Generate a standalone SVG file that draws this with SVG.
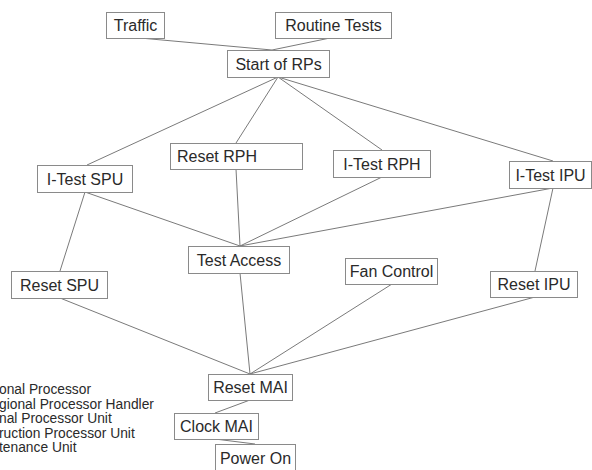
<svg xmlns="http://www.w3.org/2000/svg" width="592" height="470" viewBox="0 0 592 470">
  <style>
    .box { fill: #ffffff; stroke: #8a8a8a; stroke-width: 1; }
    .lbl { font-family: "Liberation Sans", Arial, sans-serif; font-size: 16px; fill: #2a2a2a; text-anchor: middle; }
    .leg { font-family: "Liberation Sans", Arial, sans-serif; font-size: 13.8px; fill: #2a2a2a; }
    .edge { stroke: #7a7a7a; stroke-width: 1; fill: none; }
  </style>
  <rect width="592" height="470" fill="#ffffff"/>

  <!-- connectors -->
  <g id="connectors" class="edge">
    <line x1="140" y1="38" x2="272" y2="50"/>
    <line x1="330" y1="38" x2="272" y2="50"/>
    <line x1="278" y1="77" x2="87" y2="165"/>
    <line x1="278" y1="77" x2="236" y2="143"/>
    <line x1="278" y1="77" x2="382" y2="150"/>
    <line x1="278" y1="77" x2="553" y2="161"/>
    <line x1="85" y1="192" x2="240" y2="246"/>
    <line x1="85" y1="192" x2="60" y2="271"/>
    <line x1="236" y1="169" x2="240" y2="246"/>
    <line x1="382" y1="177" x2="240" y2="246"/>
    <line x1="553" y1="188" x2="240" y2="246"/>
    <line x1="553" y1="188" x2="535" y2="271"/>
    <line x1="60" y1="298" x2="250" y2="374"/>
    <line x1="240" y1="273" x2="250" y2="374"/>
    <line x1="392" y1="284" x2="250" y2="374"/>
    <line x1="535" y1="297" x2="250" y2="374"/>
    <line x1="250" y1="400" x2="215" y2="413"/>
    <line x1="215" y1="439" x2="255" y2="444"/>
  </g>

  <g id="traffic"><rect class="box" x="106.5" y="12.5" width="58" height="26"/><text class="lbl" x="135.5" y="31">Traffic</text></g>
  <g id="routine-tests"><rect class="box" x="275.5" y="12.5" width="116" height="26"/><text class="lbl" x="333.5" y="31">Routine Tests</text></g>
  <g id="start-of-rps"><rect class="box" x="227.5" y="50.5" width="102" height="27"/><text class="lbl" x="278.5" y="69.5">Start of RPs</text></g>
  <g id="reset-rph"><rect class="box" x="170.5" y="143.5" width="132" height="26"/><text class="lbl" x="217" y="162">Reset RPH</text></g>
  <g id="itest-rph"><rect class="box" x="333.5" y="150.5" width="97" height="27"/><text class="lbl" x="382" y="169.5">I-Test RPH</text></g>
  <g id="itest-spu"><rect class="box" x="37.5" y="165.5" width="95" height="27"/><text class="lbl" x="85" y="184.5">I-Test SPU</text></g>
  <g id="itest-ipu"><rect class="box" x="509.5" y="161.5" width="82" height="27"/><text class="lbl" x="550.5" y="180.5">I-Test IPU</text></g>
  <g id="test-access"><rect class="box" x="188.5" y="246.5" width="101" height="27"/><text class="lbl" x="239" y="265.5">Test Access</text></g>
  <g id="fan-control"><rect class="box" x="345.5" y="258.5" width="92" height="26"/><text class="lbl" x="391.5" y="277">Fan Control</text></g>
  <g id="reset-spu"><rect class="box" x="11.5" y="271.5" width="96" height="27"/><text class="lbl" x="59.5" y="290.5">Reset SPU</text></g>
  <g id="reset-ipu"><rect class="box" x="490.5" y="271.5" width="87" height="26"/><text class="lbl" x="534" y="290">Reset IPU</text></g>
  <g id="reset-mai"><rect class="box" x="208.5" y="374.5" width="84" height="26"/><text class="lbl" x="250.5" y="393">Reset MAI</text></g>
  <g id="clock-mai"><rect class="box" x="174.5" y="413.5" width="84" height="26"/><text class="lbl" x="216.5" y="432">Clock MAI</text></g>
  <g id="power-on"><rect class="box" x="215.5" y="444.5" width="80" height="27"/><text class="lbl" x="255.5" y="463.5">Power On</text></g>

  <!-- abbreviation key, running off the left edge -->
  <g id="legend" class="leg">
    <text x="-1" y="394">onal Processor</text>
    <text x="-1" y="408.5">gional Processor Handler</text>
    <text x="-1" y="423">nal Processor Unit</text>
    <text x="-1" y="437.5">ruction Processor Unit</text>
    <text x="-1" y="452">tenance Unit</text>
  </g>
</svg>
